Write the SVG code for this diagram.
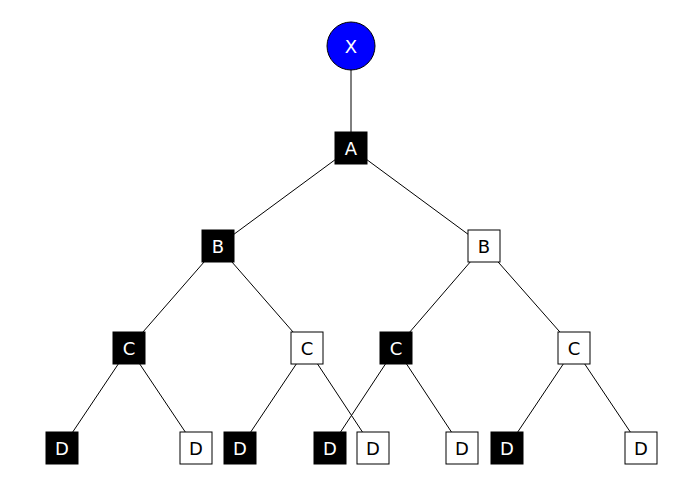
<svg xmlns="http://www.w3.org/2000/svg" width="695" height="504" viewBox="0 0 695 504">
<style>
.e line{stroke:#000;stroke-width:1}
.b{fill:#000;stroke:#000}
.w{fill:#fff;stroke:#000}
text{font-family:"DejaVu Sans",sans-serif;font-size:18px;text-anchor:middle;dominant-baseline:central}
.tb{fill:#fff}
.tw{fill:#000}
</style>
<rect width="695" height="504" fill="#fff"/>
<g class="e">
<line x1="351" y1="46" x2="351" y2="148"/>
<line x1="351" y1="148" x2="218" y2="246"/>
<line x1="351" y1="148" x2="484" y2="246"/>
<line x1="218" y1="246" x2="129" y2="348"/>
<line x1="218" y1="246" x2="307" y2="348"/>
<line x1="484" y1="246" x2="396" y2="348"/>
<line x1="484" y1="246" x2="574" y2="348"/>
<line x1="129" y1="348" x2="62" y2="448"/>
<line x1="129" y1="348" x2="196" y2="448"/>
<line x1="307" y1="348" x2="240" y2="448"/>
<line x1="307" y1="348" x2="373" y2="448"/>
<line x1="396" y1="348" x2="330" y2="448"/>
<line x1="396" y1="348" x2="462" y2="448"/>
<line x1="574" y1="348" x2="507" y2="448"/>
<line x1="574" y1="348" x2="641" y2="448"/>
</g>
<g id="X"><circle cx="351" cy="46" r="24" fill="#0000ff" stroke="#000"/><text x="351" y="46" class="tb" font-size="22">X</text></g>
<g id="A"><rect class="b" x="335" y="132" width="32" height="32"/><text x="351" y="148" class="tb" font-size="20">A</text></g>
<g id="B1"><rect class="b" x="202" y="230" width="32" height="32"/><text x="218" y="246" class="tb">B</text></g>
<g id="B2"><rect class="w" x="468" y="230" width="32" height="32"/><text x="484" y="246" class="tw">B</text></g>
<g id="C1"><rect class="b" x="113" y="332" width="32" height="32"/><text x="129" y="348" class="tb">C</text></g>
<g id="C2"><rect class="w" x="291" y="332" width="32" height="32"/><text x="307" y="348" class="tw">C</text></g>
<g id="C3"><rect class="b" x="380" y="332" width="32" height="32"/><text x="396" y="348" class="tb">C</text></g>
<g id="C4"><rect class="w" x="558" y="332" width="32" height="32"/><text x="574" y="348" class="tw">C</text></g>
<g id="D1"><rect class="b" x="46" y="432" width="32" height="32"/><text x="62" y="448" class="tb">D</text></g>
<g id="D2"><rect class="w" x="180" y="432" width="32" height="32"/><text x="196" y="448" class="tw">D</text></g>
<g id="D3"><rect class="b" x="224" y="432" width="32" height="32"/><text x="240" y="448" class="tb">D</text></g>
<g id="D4"><rect class="b" x="314" y="432" width="32" height="32"/><text x="330" y="448" class="tb">D</text></g>
<g id="D5"><rect class="w" x="357" y="432" width="32" height="32"/><text x="373" y="448" class="tw">D</text></g>
<g id="D6"><rect class="w" x="446" y="432" width="32" height="32"/><text x="462" y="448" class="tw">D</text></g>
<g id="D7"><rect class="b" x="491" y="432" width="32" height="32"/><text x="507" y="448" class="tb">D</text></g>
<g id="D8"><rect class="w" x="625" y="432" width="32" height="32"/><text x="641" y="448" class="tw">D</text></g>
</svg>
